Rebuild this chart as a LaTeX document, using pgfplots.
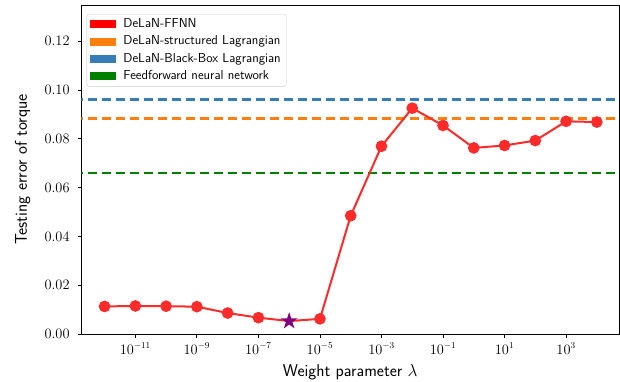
\documentclass[border=0pt]{standalone}
\usepackage{pgfplots}
\pgfplotsset{compat=1.18}
\usetikzlibrary{plotmarks}

\definecolor{cblue}{HTML}{377EB8}
\definecolor{corange}{HTML}{FF7F0E}
\definecolor{cgreen}{HTML}{008000}
\definecolor{cpurple}{HTML}{800080}
\definecolor{cred}{HTML}{FF2A2A}

\pgfdeclareplotmark{fstar}{%
 \pgfpathmoveto{\pgfpointpolar{90}{\pgfplotmarksize}}%
 \pgfpathlineto{\pgfpointpolar{126}{0.382\pgfplotmarksize}}%
 \pgfpathlineto{\pgfpointpolar{162}{\pgfplotmarksize}}%
 \pgfpathlineto{\pgfpointpolar{198}{0.382\pgfplotmarksize}}%
 \pgfpathlineto{\pgfpointpolar{234}{\pgfplotmarksize}}%
 \pgfpathlineto{\pgfpointpolar{270}{0.382\pgfplotmarksize}}%
 \pgfpathlineto{\pgfpointpolar{306}{\pgfplotmarksize}}%
 \pgfpathlineto{\pgfpointpolar{342}{0.382\pgfplotmarksize}}%
 \pgfpathlineto{\pgfpointpolar{18}{\pgfplotmarksize}}%
 \pgfpathlineto{\pgfpointpolar{54}{0.382\pgfplotmarksize}}%
 \pgfpathclose
 \pgfusepathqfill
}

\pgfplotsset{patchlegend/.style={legend image code/.code={\fill[##1, draw=none, sharp corners] (0pt,-4pt) rectangle (26pt,4pt);}}}

\begin{document}
\begin{tikzpicture}
\begin{axis}[
 at={(0,0)}, anchor=south west, scale only axis,
 width=537.5pt, height=329pt,
 xmode=log, log basis x=10,
 xmin=1.778e-13, xmax=5.25e4,
 ymin=0, ymax=0.1349,
 xtick={1e-11,1e-9,1e-7,1e-5,1e-3,1e-1,1e1,1e3},
 minor xtick={},
 ytick={0,0.02,0.04,0.06,0.08,0.10,0.12},
 yticklabel={\pgfmathprintnumber[fixed,fixed zerofill,precision=2]{\tick}},
 tick align=outside, major tick length=3.5pt,
 xtick pos=bottom, ytick pos=left,
 tick style={black, line width=0.8pt},
 axis line style={black, line width=0.8pt},
 ticklabel style={font=\fontsize{13.5}{16}\selectfont},
 xticklabel style={anchor=base, inner sep=0pt, yshift=-16.5pt},
 yticklabel style={anchor=east, inner sep=0pt, xshift=-8.2pt},
 xlabel={Weight parameter $\lambda$},
 ylabel={Testing error of torque},
 every axis x label/.style={at={(axis description cs:0.5,-0.1298)}, anchor=base, font=\fontsize{17}{20}\selectfont\sffamily},
 every axis y label/.style={at={(axis description cs:-0.1014,0.5)}, rotate=90, anchor=base, font=\fontsize{17}{20}\selectfont\sffamily},
 legend cell align=left,
 legend style={at={(axis description cs:0.0097,0.9726)}, anchor=north west,
   draw=black!20, rounded corners=2pt, fill=white,
   font=\fontsize{13}{15}\selectfont\sffamily,
   inner xsep=3.5pt, inner ysep=2.5pt, row sep=1.7pt,
   nodes={inner sep=2pt, text height=9pt, text depth=2.5pt},
   /tikz/every odd column/.append style={column sep=5pt}},
]
\addlegendimage{patchlegend, fill=red}
\addlegendentry{DeLaN-FFNN}
\addlegendimage{patchlegend, fill=corange}
\addlegendentry{DeLaN-structured Lagrangian}
\addlegendimage{patchlegend, fill=cblue}
\addlegendentry{DeLaN-Black-Box Lagrangian}
\addlegendimage{patchlegend, fill=cgreen}
\addlegendentry{Feedforward neural network}

\addplot[forget plot, cblue, line width=2.4pt, dash pattern=on 9.5pt off 4.5pt] coordinates {(1e-13,0.0962) (1e5,0.0962)};
\addplot[forget plot, corange, line width=2.4pt, dash pattern=on 9.5pt off 4.5pt] coordinates {(1e-13,0.0883) (1e5,0.0883)};
\addplot[forget plot, cgreen, line width=2.4pt, dash pattern=on 9.5pt off 4.5pt] coordinates {(1e-13,0.0661) (1e5,0.0661)};

\addplot[forget plot, cred, line width=2pt, mark=*, mark size=4.8pt,
  mark indices={1,2,3,4,5,6,8,9,10,11,12,13,14,15,16,17},
  mark options={solid, fill=cred, draw=cred}] coordinates {
(1e-12,0.0113) (1e-11,0.0115) (1e-10,0.0114) (1e-9,0.0112) (1e-8,0.0086)
(1e-7,0.0067) (1e-6,0.0053) (1e-5,0.0062) (1e-4,0.0485) (1e-3,0.0770)
(1e-2,0.0926) (1e-1,0.0855) (1e0,0.0763) (1e1,0.0773) (1e2,0.0793)
(1e3,0.0872) (1e4,0.0869)};

\addplot[forget plot, only marks, mark=fstar, mark size=9pt, color=cpurple, mark options={fill=cpurple, draw=none}] coordinates {(1e-6,0.0053)};
\end{axis}
\pgfresetboundingbox
\path[use as bounding box] (-81.5pt,-48pt) rectangle (538.5pt,334pt);
\end{tikzpicture}
\end{document}
